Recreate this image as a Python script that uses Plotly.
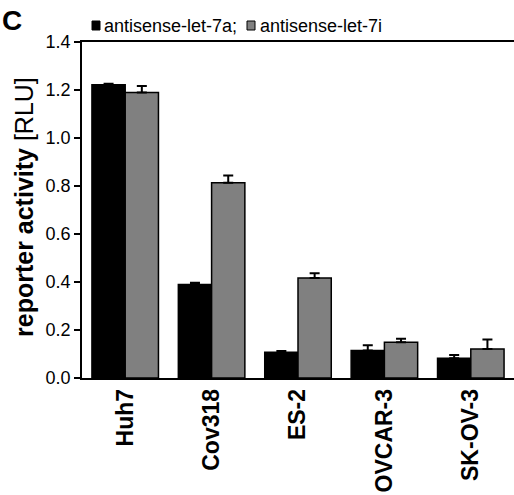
import plotly.graph_objects as go

categories = ["Huh7", "Cov318", "ES-2", "OVCAR-3", "SK-OV-3"]
let7a_vals = [1.222, 0.39, 0.107, 0.115, 0.082]
let7a_err = [0.004, 0.007, 0.006, 0.021, 0.014]
let7i_vals = [1.19, 0.814, 0.417, 0.149, 0.121]
let7i_err = [0.027, 0.03, 0.019, 0.015, 0.039]
y_ticks = [0.0, 0.2, 0.4, 0.6, 0.8, 1.0, 1.2, 1.4]
legend_labels = ["antisense-let-7a;", "antisense-let-7i"]
colors = ["black", "#808080"]

fig = go.Figure()
fig.add_trace(go.Bar(
    x=categories, y=let7a_vals, name=legend_labels[0],
    marker=dict(color=colors[0], line=dict(color="black", width=1.5)),
    error_y=dict(type="data", array=let7a_err, arrayminus=[0]*5, symmetric=False,
                 color="black", thickness=2, width=5),
))
fig.add_trace(go.Bar(
    x=categories, y=let7i_vals, name=legend_labels[1],
    marker=dict(color=colors[1], line=dict(color="black", width=1.5)),
    error_y=dict(type="data", array=let7i_err, arrayminus=[0]*5, symmetric=False,
                 color="black", thickness=2, width=5),
))

fig.update_layout(
    width=514, height=495,
    margin=dict(l=82, r=0, t=42, b=117, autoexpand=False),
    paper_bgcolor="white", plot_bgcolor="white",
    barmode="group", bargap=0.23, bargroupgap=0,
    font=dict(family="Arial, Liberation Sans, sans-serif", color="black", size=17),
    showlegend=False,
)
fig.update_xaxes(
    range=[-0.5, 4.5], showline=True, linecolor="black", linewidth=1.5, mirror=True,
    ticks="", tickangle=-90, automargin=False,
    tickfont=dict(size=23, color="black"),
    tickprefix="<b>", ticksuffix="</b>",
)
fig.update_yaxes(
    range=[0, 1.4], tickvals=y_ticks, ticktext=[f"{v:.1f}" for v in y_ticks],
    showline=True, linecolor="black", linewidth=1.5, ticks="outside", ticklen=6,
    tickwidth=1.5, tickcolor="black", showgrid=False, zeroline=False, automargin=False,
    tickfont=dict(size=18),
)

plot_w, plot_h = 432, 336
def px_x(p):
    return (p - 82) / plot_w
def px_y(p):
    return (378 - p) / plot_h

# y-axis title
fig.add_annotation(text="<b>reporter activity</b> [RLU]", xref="paper", yref="paper",
                   x=px_x(24), y=px_y(207), xanchor="center", yanchor="middle",
                   textangle=-90, showarrow=False, font=dict(size=25))

# legend drawn manually (compact, as in the reference)
sq_left = [92, 247]
txt_left = [102, 258]
for i in range(2):
    fig.add_shape(type="rect", xref="paper", yref="paper",
                  x0=px_x(sq_left[i]), x1=px_x(sq_left[i] + 8),
                  y0=px_y(30), y1=px_y(21),
                  fillcolor=colors[i], line=dict(color="black", width=1))
    fig.add_annotation(text=legend_labels[i], xref="paper", yref="paper",
                       x=px_x(txt_left[i]), y=px_y(25.5), xanchor="left", yanchor="middle",
                       showarrow=False, font=dict(size=18))

fig.add_annotation(text="<b>C</b>", xref="paper", yref="paper", x=px_x(0), y=px_y(3),
                   xanchor="left", yanchor="top", showarrow=False, font=dict(size=28))
fig.write_html("out.html", config={"displayModeBar": False},
               post_script="document.body.style.margin='0';document.body.style.padding='0';")
